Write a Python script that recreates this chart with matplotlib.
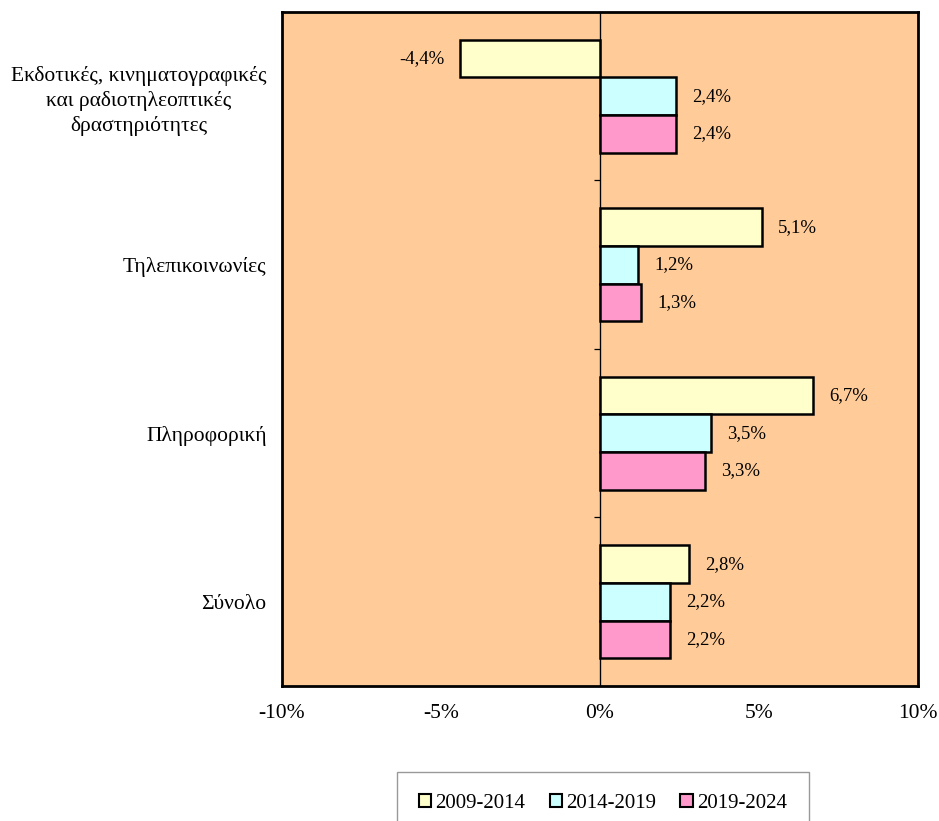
import numpy as np
import matplotlib.pyplot as plt
from matplotlib.patches import Patch

plt.rcParams['font.family'] = ['Liberation Serif', 'DejaVu Serif']

# data
categories = ['Εκδοτικές, κινηματογραφικές\nκαι ραδιοτηλεοπτικές\nδραστηριότητες',
              'Τηλεπικοινωνίες', 'Πληροφορική', 'Σύνολο']
periods = ['2009-2014', '2014-2019', '2019-2024']
v_2009_2014 = [-4.4, 5.1, 6.7, 2.8]
v_2014_2019 = [2.4, 1.2, 3.5, 2.2]
v_2019_2024 = [2.4, 1.3, 3.3, 2.2]
x_ticks = [-10, -5, 0, 5, 10]

series = [v_2009_2014, v_2014_2019, v_2019_2024]
colors = ['#FFFFCC', '#CCFFFF', '#FF99CC']

fig = plt.figure(figsize=(9.39, 8.21), dpi=100)
ax = fig.add_axes([282/939, 1-686/821, (918-282)/939, (686-12)/821])
ax.set_facecolor('#FFCC99')

n = len(categories)
ypos = np.arange(n)  # top to bottom
h = 0.223
for i, vals in enumerate(series):
    y = ypos + (i - 1) * h
    ax.barh(y, vals, height=h, color=colors[i], edgecolor='black', linewidth=1.8, zorder=3)
    for yy, v in zip(y, vals):
        lab = ('%.1f%%' % v).replace('.', ',')
        if v >= 0:
            ax.annotate(lab, (v, yy), xytext=(11.5, 0), textcoords='offset points',
                        ha='left', va='center', fontsize=13.5)
        else:
            ax.annotate(lab, (v, yy), xytext=(-11, 0), textcoords='offset points',
                        ha='right', va='center', fontsize=13.5)

ax.axvline(0, color='black', linewidth=0.9, zorder=2)
ax.set_xlim(-10, 10)
ax.set_ylim(n - 0.5, -0.5)
ax.set_xticks(x_ticks)
ax.set_xticklabels(['%d%%' % t for t in x_ticks], fontsize=15.5)
ax.tick_params(axis='x', length=0, pad=13)
ax.set_yticks(ypos)
ax.set_yticklabels(categories, fontsize=15.5, multialignment='center', linespacing=1.32)
ax.tick_params(axis='y', length=0, pad=11)
for s in ax.spines.values():
    s.set_linewidth(2)

# category separators on the zero axis
sec = ax.secondary_yaxis(0.5)
sec.set_yticks([0.5, 1.5, 2.5])
sec.set_yticklabels([])
sec.tick_params(axis='y', length=4, width=0.9, direction='in')
sec.spines['left'].set_visible(False)

handles = [Patch(facecolor=c, edgecolor='black', linewidth=1.5) for c in colors]
leg = fig.legend(handles, periods, loc='upper left', bbox_to_anchor=(397/939, 1-772/821),
                 ncol=3, fontsize=15, frameon=True, fancybox=False, edgecolor='#808080',
                 handlelength=0.6, handleheight=0.6, handletextpad=0.2,
                 columnspacing=1.15, borderpad=1.05, borderaxespad=0)
leg.get_frame().set_linewidth(1.0)

fig.savefig('out.png', dpi=100)
